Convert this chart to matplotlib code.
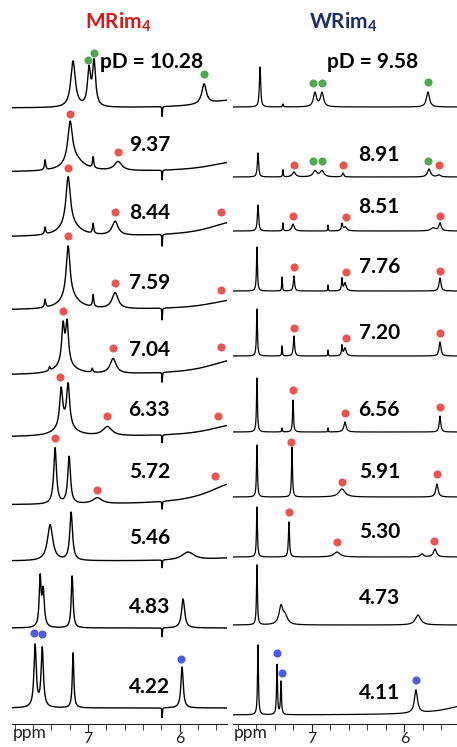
"""
Stacked 1H NMR spectra of MRim4 and WRim4 at different pD
"""
import numpy as np
from matplotlib import pyplot as plt
from matplotlib.ticker import MultipleLocator

plt.rcParams["font.family"] = ["Lato", "DejaVu Sans"]
plt.rcParams["mathtext.fontset"] = "custom"
plt.rcParams["mathtext.bf"] = "Lato:bold"

RED = "#ef5350"
GREEN = "#52a852"
BLUE = "#4f5ae8"

# ---- data: MRim4 (left) ----
left_pd = ["pD = 10.28", "9.37", "8.44", "7.59", "7.04", "6.33", "5.72", "5.46", "4.83", "4.22"]
# baseline of each trace (pixel row in the stack)
left_base = [108, 172, 237, 310, 375, 437, 505, 561, 628, 708]
# peaks: (ppm, height, half width) -- last entry of each is the solvent artefact at 6.19
left_peaks = [
    [(7.164, 46, 0.03), (6.99, 36, 0.02), (6.935, 44, 0.02), (5.735, 20, 0.03), (5.4, 8, 0.35), (6.193, -10, 0.003)],
    [(7.196, 40, 0.03), (7.15, 12, 0.12), (7.469, 10, 0.008), (6.945, 11, 0.008), (6.673, 9, 0.05), (5.4, 10, 0.35), (6.193, -10, 0.003)],
    [(7.218, 48, 0.028), (7.2, 12, 0.12), (7.469, 7, 0.008), (6.945, 10, 0.008), (6.706, 14, 0.04), (5.4, 15, 0.35), (6.193, -12, 0.003)],
    [(7.218, 52, 0.025), (7.2, 12, 0.12), (7.469, 8, 0.008), (6.945, 12, 0.008), (6.706, 16, 0.04), (5.4, 10, 0.35), (6.193, -12, 0.003)],
    [(7.273, 38, 0.018), (7.229, 40, 0.018), (7.25, 10, 0.12), (7.42, 4, 0.008), (6.955, 4, 0.008), (6.727, 15, 0.04), (5.4, 15, 0.35), (6.193, -10, 0.003)],
    [(7.294, 38, 0.02), (7.218, 42, 0.02), (7.25, 10, 0.12), (6.79, 9, 0.06), (5.4, 12, 0.35), (6.193, -8, 0.003)],
    [(7.36, 56, 0.018), (7.207, 47, 0.018), (6.90, 6, 0.06), (5.4, 22, 0.35), (6.193, -8, 0.003)],
    [(7.414, 36, 0.035), (7.185, 48, 0.018), (5.91, 8, 0.08), (5.4, 3, 0.35), (6.193, -8, 0.003)],
    [(7.523, 48, 0.012), (7.49, 36, 0.015), (7.174, 52, 0.012), (5.964, 29, 0.02), (6.193, -9, 0.003)],
    [(7.578, 62, 0.015), (7.50, 59, 0.015), (7.164, 55, 0.01), (5.975, 41, 0.015), (6.193, -10, 0.003)],
]
# assignment markers: (ppm, pixel row, colour)
left_dots = [
    [(7.00, 60, GREEN), (6.935, 53, GREEN), (5.735, 74, GREEN)],
    [(7.196, 114, RED), (6.673, 152, RED)],
    [(7.218, 168, RED), (6.706, 212, RED), (5.55, 212, RED)],
    [(7.218, 236, RED), (6.706, 283, RED), (5.55, 290, RED)],
    [(7.273, 311, RED), (6.727, 348, RED), (5.55, 347, RED)],
    [(7.305, 377, RED), (6.79, 416, RED), (5.582, 416, RED)],
    [(7.36, 438, RED), (6.90, 490, RED), (5.615, 476, RED)],
    [],
    [],
    [(7.589, 633, BLUE), (7.50, 634, BLUE), (5.986, 659, BLUE)],
]
left_label_rows = [62, 145, 213, 283, 350, 410, 472, 538, 607, 687]

# ---- data: WRim4 (right) ----
right_pd = ["pD = 9.58", "8.91", "8.51", "7.76", "7.20", "6.56", "5.91", "5.30", "4.73", "4.11"]
right_base = [107, 177, 231, 291, 356, 432, 497, 557, 625, 715]
right_peaks = [
    [(7.562, 40, 0.008), (7.314, 3, 0.005), (6.968, 14, 0.02), (6.892, 14, 0.02), (5.746, 15, 0.02)],
    [(7.584, 24, 0.008), (7.314, 7, 0.004), (7.195, 5, 0.02), (6.968, 6, 0.025), (6.892, 6, 0.025),
     (6.665, 4, 0.01), (5.735, 8, 0.02), (5.627, 2, 0.02)],
    [(7.584, 26, 0.008), (7.314, 8, 0.004), (7.205, 7, 0.015), (6.827, 6, 0.003), (6.676, 7, 0.008),
     (6.64, 4, 0.02), (5.616, 8, 0.015), (5.69, 3, 0.03)],
    [(7.595, 44, 0.006), (7.324, 14, 0.004), (7.195, 15, 0.008), (6.827, 6, 0.003), (6.676, 12, 0.006),
     (6.643, 8, 0.015), (5.616, 13, 0.012)],
    [(7.595, 47, 0.006), (7.324, 10, 0.004), (7.195, 20, 0.008), (6.827, 6, 0.003), (6.676, 10, 0.006),
     (6.643, 8, 0.015), (5.616, 14, 0.012)],
    [(7.595, 54, 0.006), (7.324, 4, 0.004), (7.205, 32, 0.006), (6.827, 4, 0.003), (6.643, 10, 0.015),
     (5.616, 16, 0.01)],
    [(7.595, 52, 0.006), (7.216, 50, 0.006), (6.676, 8, 0.04), (5.649, 13, 0.015)],
    [(7.595, 50, 0.006), (7.249, 35, 0.007), (6.73, 5, 0.04), (5.81, 3, 0.02), (5.67, 8, 0.02)],
    [(7.595, 60, 0.006), (7.335, 18, 0.025), (7.29, 8, 0.03), (5.854, 10, 0.035)],
    [(7.584, 70, 0.006), (7.378, 50, 0.006), (7.335, 33, 0.006), (5.876, 23, 0.02), (5.3, 10, 0.3)],
]
right_dots = [
    [(6.989, 83, GREEN), (6.892, 83, GREEN), (5.746, 82, GREEN)],
    [(7.195, 165, RED), (6.989, 161, GREEN), (6.892, 161, GREEN), (6.665, 165, RED),
     (5.746, 161, GREEN), (5.627, 165, RED)],
    [(7.205, 216, RED), (6.632, 217, RED), (5.616, 216, RED)],
    [(7.195, 267, RED), (6.632, 272, RED), (5.616, 271, RED)],
    [(7.195, 328, RED), (6.632, 338, RED), (5.616, 333, RED)],
    [(7.205, 390, RED), (6.643, 413, RED), (5.616, 407, RED)],
    [(7.227, 442, RED), (6.676, 482, RED), (5.649, 474, RED)],
    [(7.249, 512, RED), (6.73, 542, RED), (5.681, 541, RED)],
    [],
    [(7.378, 653, BLUE), (7.324, 673, BLUE), (5.876, 680, BLUE)],
]
right_label_rows = [62, 155, 207, 267, 333, 410, 472, 532, 598, 693]

W, H = 457, 747
AX_H = 724  # axis line row (pixels from top)


def draw_panel(ax, xlim, base, peaks, dots, labels, label_rows, label_x, first_x, lw):
    ppm = np.linspace(xlim[0], xlim[1], 3000)
    for k in range(len(base)):
        spec = np.zeros_like(ppm)
        for x0, h, w in peaks[k]:
            spec += h * w**2 / ((ppm - x0)**2 + w**2)
        ax.plot(ppm, AX_H - base[k] + spec, color="black", lw=lw)
        for x0, row, c in dots[k]:
            ax.scatter(x0, AX_H - row, s=34, color=c, zorder=3, linewidths=0)
        ax.text(first_x if k == 0 else label_x, AX_H - label_rows[k], labels[k],
                ha="right", va="center", fontsize=15, fontweight="bold")

    ax.set_xlim(*xlim)
    ax.set_ylim(0, AX_H)
    for s in ["top", "left", "right"]:
        ax.spines[s].set_visible(False)
    ax.set_yticks([])
    ax.xaxis.set_major_locator(MultipleLocator(1))
    ax.xaxis.set_minor_locator(MultipleLocator(0.2))
    ax.tick_params(axis="x", which="major", length=6, labelsize=11.5, pad=0, colors="#222222")
    ax.tick_params(axis="x", which="minor", length=4, colors="#222222")
    ax.spines["bottom"].set_color("#222222")
    ax.text(0.005, -0.002, "ppm", transform=ax.transAxes, ha="left", va="top",
            fontsize=12.5, color="#222222")
    ax.patch.set_alpha(0)


if __name__ == "__main__":
    fig = plt.figure(figsize=(W / 100, H / 100), dpi=100)
    bottom = (H - AX_H) / H
    ax_l = fig.add_axes([12 / W, bottom, 215 / W, AX_H / H])
    ax_r = fig.add_axes([233 / W, bottom, 224 / W, AX_H / H])

    draw_panel(ax_l, (7.83, 5.485), left_base, left_peaks, left_dots,
               left_pd, left_label_rows, 6.106, 5.745, 1.0)
    draw_panel(ax_r, (7.854, 5.432), right_base, right_peaks, right_dots,
               right_pd, right_label_rows, 6.049, 5.854, 0.9)

    fig.text(118 / W, 1 - 22 / H, r"MRim$_\mathbf{4}$", color="#d7191c",
             ha="center", va="center", fontsize=15, fontweight="bold")
    fig.text(343 / W, 1 - 22 / H, r"WRim$_\mathbf{4}$", color="#1f2d6b",
             ha="center", va="center", fontsize=15, fontweight="bold")

    fig.savefig("out.png", dpi=100)
